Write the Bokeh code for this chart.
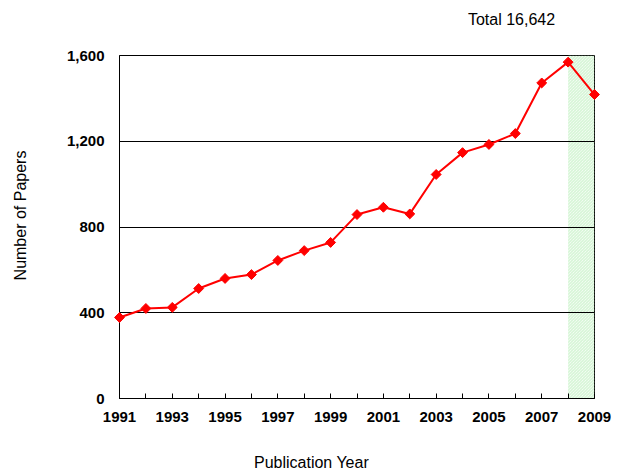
import math
from bokeh.plotting import figure
from bokeh.models import (FixedTicker, NumeralTickFormatter, Range1d,
                          ColumnDataSource)
from bokeh.core.properties import value
from bokeh.embed import file_html
from bokeh.resources import INLINE

years = list(range(1991, 2010))
papers = [378, 420, 425, 513, 560, 578, 644, 690, 728, 858, 892, 861,
          1045, 1147, 1185, 1236, 1472, 1569, 1418]
y_ticks = [0, 400, 800, 1200, 1600]
x_label_years = [1991, 1993, 1995, 1997, 1999, 2001, 2003, 2005, 2007, 2009]
shade_start, shade_end = 2008, 2009
total_text = "Total 16,642"
x_title = "Publication Year"
y_title = "Number of Papers"

FONT = "Liberation Sans"

p = figure(width=627, height=476, output_backend="svg", toolbar_location=None,
           x_range=Range1d(1991, 2009), y_range=Range1d(0, 1600),
           min_border_left=119, min_border_right=33, min_border_top=55,
           min_border_bottom=78, background_fill_color="white",
           border_fill_color="white")

p.outline_line_color = "black"
p.outline_line_width = 1
p.outline_line_alpha = 1

# shaded (hatched) region
p.quad(left=[shade_start], right=[shade_end], bottom=[0], top=[1600],
       fill_alpha=0, line_alpha=0, hatch_pattern="\\", hatch_color="#cdf3cd",
       hatch_scale=3, hatch_weight=1, level="underlay")

src = ColumnDataSource(dict(x=years, y=papers))
p.line("x", "y", source=src, line_color="#ff0000", line_width=2, level="overlay")
p.scatter("x", "y", source=src, marker="square", angle=math.pi / 4, size=7,
          fill_color="#ff0000", line_color="#ff0000", level="overlay")

# axes
p.xaxis.ticker = FixedTicker(ticks=years)
p.xaxis.major_label_overrides = {y: (str(y) if y in x_label_years else "") for y in years}
p.xaxis.major_tick_in = 5
p.xaxis.major_tick_out = 0
p.xaxis.minor_tick_line_color = None
p.xaxis.major_label_standoff = 13
p.yaxis.ticker = FixedTicker(ticks=y_ticks)
p.yaxis.formatter = NumeralTickFormatter(format="0,0")
p.yaxis.major_tick_in = 0
p.yaxis.major_tick_out = 0
p.yaxis.minor_tick_line_color = None
p.yaxis.major_label_standoff = 15
for ax in (p.xaxis, p.yaxis):
    ax.axis_line_color = "black"
    ax.major_tick_line_color = "black"
    ax.major_label_text_font = FONT
    ax.major_label_text_font_style = "bold"
    ax.major_label_text_font_size = "15px"
    ax.major_label_text_color = "black"

p.xgrid.grid_line_color = None
p.ygrid.grid_line_color = "black"
p.ygrid.grid_line_width = 1
p.ygrid.grid_line_alpha = 1

# text placed outside the frame via data coordinates
px_per_year = 475 / 18.0
units_per_px = 1600 / 343.0

def dx(px):
    return 1991 + (px - 119) / px_per_year

def dy(py):
    return (398 - py) * units_per_px

p.text(x=[dx(511)], y=[dy(19)], text=[total_text], text_align="center",
       text_baseline="alphabetic", text_font=value(FONT),
       text_font_size="16px", text_color="black", level="overlay")
p.text(x=[dx(311)], y=[dy(462)], text=[x_title], text_align="center",
       text_baseline="alphabetic", text_font=value(FONT),
       text_font_size="16px", text_color="black", level="overlay")
p.text(x=[dx(20)], y=[dy(215)], text=[y_title], angle=math.pi / 2,
       text_align="center", text_baseline="middle", text_font=value(FONT),
       text_font_size="16px", text_color="black", level="overlay")

open("out.html", "w").write(file_html(p, INLINE))
